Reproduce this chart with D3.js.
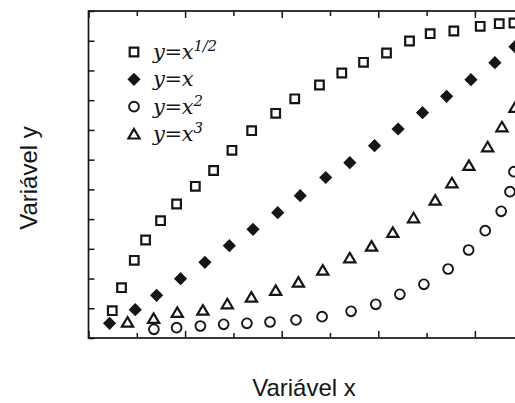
<!DOCTYPE html>
<html>
<head>
<meta charset="utf-8">
<script src="https://cdn.jsdelivr.net/npm/d3@7"></script>
<style>
  html, body { margin: 0; padding: 0; background: #fff; }
  svg { display: block; }
</style>
</head>
<body>
<svg id="chart" width="515" height="403"></svg>
<script>
// Measured points for the four power laws (x and y in axis units)
const sqrtX = [0.246,0.342,0.474,0.591,0.746,0.912,1.106,1.295,1.485,1.689,1.938,2.135,2.391,2.622,2.847,3.085,3.323,3.537,3.782,4.055,4.252,4.404];
const sqrtY = [0.918,1.692,2.614,3.297,3.946,4.508,5.103,5.635,6.314,6.973,7.559,8.047,8.511,8.914,9.274,9.587,9.991,10.237,10.327,10.485,10.573,10.597];

const linX = [0.218,0.484,0.705,0.953,1.205,1.458,1.703,1.959,2.192,2.456,2.705,2.961,3.205,3.458,3.707,3.959,4.207,4.415];
const linY = [0.494,0.952,1.436,1.995,2.547,3.105,3.657,4.215,4.787,5.399,5.897,6.469,7.031,7.579,8.131,8.689,9.261,9.799];

const quadX = [0.677,0.912,1.158,1.399,1.640,1.879,2.148,2.418,2.718,2.974,3.223,3.472,3.723,3.935,4.107,4.272,4.363,4.404];
const quadY = [0.293,0.346,0.404,0.461,0.494,0.538,0.606,0.717,0.898,1.134,1.470,1.806,2.321,2.960,3.609,4.262,4.922,5.594];

const cubeX = [0.404,0.674,0.919,1.184,1.437,1.686,1.938,2.173,2.425,2.705,2.930,3.150,3.365,3.589,3.762,3.938,4.132,4.280,4.415];
const cubeY = [0.538,0.663,0.865,0.942,1.154,1.379,1.605,1.884,2.287,2.701,3.095,3.556,4.047,4.642,5.224,5.810,6.435,7.108,7.761];

// Legend entries: base, exponent shown as superscript, marker kind
const seriesNames = ["y=x", "y=x", "y=x", "y=x"];
const seriesExps  = ["1/2", "", "2", "3"];
const seriesKinds = ["square", "diamond", "circle", "triangle"];

const axisTitleX = "Variável x";
const axisTitleY = "Variável y";

const xTicks = d3.range(0, 5.01, 0.5);
const yTicks = d3.range(0, 11.01, 1);

const ink = "#151515";
const svg = d3.select("#chart");

const plot = { left: 88.5, top: 11, bottom: 338, right: 571.5 };

const x = d3.scaleLinear().domain([0, 5]).range([plot.left, plot.right]);
const y = d3.scaleLinear().domain([0, 11]).range([plot.bottom, plot.top]);

// Marker paths
function markerPath(kind) {
  if (kind === "square") return "M-4.3,-4.3H4.3V4.3H-4.3Z";
  if (kind === "diamond") return "M0,-6.6L6.6,0L0,6.6L-6.6,0Z";
  if (kind === "circle") return d3.symbol(d3.symbolCircle, Math.PI * 4.9 * 4.9)();
  // triangle, vertically centred on its bounding box
  return "M0,-4.9L5.6,4.6L-5.6,4.6Z";
}
function markerStyle(sel, kind) {
  if (kind === "diamond") sel.attr("fill", ink).attr("stroke", "none");
  else sel.attr("fill", "none").attr("stroke", ink).attr("stroke-width", kind === "circle" ? 1.9 : 2.2);
}

// Axes: inward ticks on all visible sides
const tickLen = v => (Math.abs(v - Math.round(v)) < 1e-6 ? 7 : 5);

const bottomAxis = d3.axisBottom(x).tickValues(xTicks).tickFormat("").tickSizeOuter(0).tickSizeInner(0);
const gB = svg.append("g").attr("transform", `translate(0,${plot.bottom})`).call(bottomAxis);
gB.select(".domain").remove();
gB.selectAll(".tick line").attr("y2", d => -tickLen(d)).attr("stroke", ink).attr("stroke-width", 1.5);

const topAxis = d3.axisTop(x).tickValues(xTicks).tickFormat("").tickSizeOuter(0).tickSizeInner(0);
const gT = svg.append("g").attr("transform", `translate(0,${plot.top})`).call(topAxis);
gT.select(".domain").remove();
gT.selectAll(".tick line").attr("y2", d => tickLen(d)).attr("stroke", ink).attr("stroke-width", 1.5);

const leftAxis = d3.axisLeft(y).tickValues(yTicks).tickFormat("").tickSizeOuter(0).tickSizeInner(-6);
const gL = svg.append("g").attr("transform", `translate(${plot.left},0)`).call(leftAxis);
gL.select(".domain").remove();
gL.selectAll(".tick line").attr("stroke", ink).attr("stroke-width", 1.5);

// Frame
svg.append("rect")
  .attr("x", plot.left).attr("y", plot.top)
  .attr("width", plot.right - plot.left).attr("height", plot.bottom - plot.top)
  .attr("fill", "none").attr("stroke", ink).attr("stroke-width", 1.7);

// Data points
const seriesData = [
  { kind: "square",   xs: sqrtX, ys: sqrtY },
  { kind: "diamond",  xs: linX,  ys: linY },
  { kind: "circle",   xs: quadX, ys: quadY },
  { kind: "triangle", xs: cubeX, ys: cubeY }
];
seriesData.forEach(s => {
  const pts = s.xs.map((v, i) => [v, s.ys[i]]);
  svg.append("g").selectAll("path").data(pts).join("path")
    .attr("d", markerPath(s.kind))
    .attr("transform", d => `translate(${x(d[0])},${y(d[1])})`)
    .call(markerStyle, s.kind);
});

// Legend
const legend = svg.append("g").attr("transform", "translate(134,52)");
seriesKinds.forEach((kind, i) => {
  const row = legend.append("g").attr("transform", `translate(0,${i * 27.3})`);
  row.append("path").attr("d", markerPath(kind)).call(markerStyle, kind);
  const t = row.append("text")
    .attr("x", 19).attr("y", 7)
    .attr("font-family", "'DejaVu Serif', serif")
    .attr("font-style", "italic")
    .attr("font-size", 21)
    .attr("letter-spacing", -0.3)
    .attr("fill", ink)
    .text(seriesNames[i]);
  if (seriesExps[i]) {
    t.append("tspan").attr("dy", -8).attr("font-size", 15).text(seriesExps[i]);
  }
});

// Axis titles
svg.append("text")
  .attr("x", 304).attr("y", 396)
  .attr("text-anchor", "middle")
  .attr("font-family", "'Liberation Sans', Arial, sans-serif")
  .attr("font-size", 24)
  .attr("fill", ink)
  .text(axisTitleX);

svg.append("text")
  .attr("transform", "translate(37,178) rotate(-90)")
  .attr("text-anchor", "middle")
  .attr("font-family", "'Liberation Sans', Arial, sans-serif")
  .attr("font-size", 24)
  .attr("fill", ink)
  .text(axisTitleY);
</script>
</body>
</html>
